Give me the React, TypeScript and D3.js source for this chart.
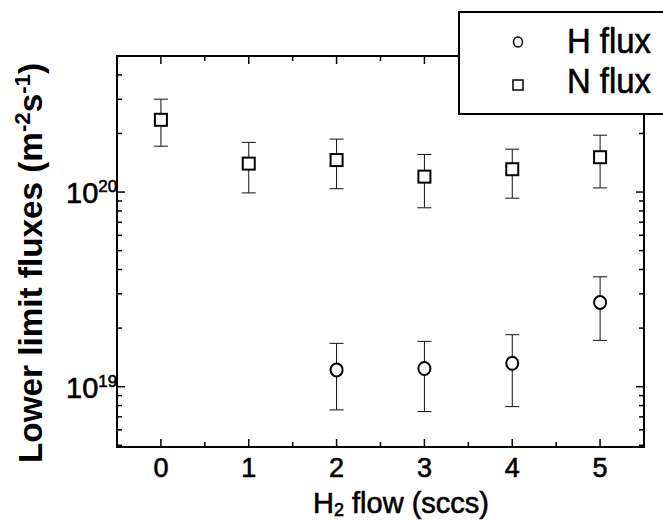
import React from "react";
import * as d3 from "d3";

const xTicks = [0, 1, 2, 3, 4, 5];
const nX = [0, 1, 2, 3, 4, 5];
const nFlux = [2.35e20, 1.4e20, 1.46e20, 1.2e20, 1.31e20, 1.51e20];
const nHigh = [3.0e20, 1.8e20, 1.87e20, 1.56e20, 1.66e20, 1.96e20];
const nLow = [1.72e20, 0.99e20, 1.04e20, 8.3e19, 9.3e19, 1.05e20];
const hX = [2, 3, 4, 5];
const hFlux = [1.22e19, 1.24e19, 1.32e19, 2.71e19];
const hHigh = [1.67e19, 1.71e19, 1.85e19, 3.67e19];
const hLow = [7.6e18, 7.45e18, 7.9e18, 1.73e19];
const yMajor = [1e19, 1e20];
const yMajorExp = ["19", "20"];
const legendLabels = ["H flux", "N flux"];

const FONT = "'Liberation Sans', Arial, Helvetica, sans-serif";

export default function App() {
  const L = 117, R = 644, T = 56, B = 447;
  const x = d3.scaleLinear().domain([-0.5, 5.5]).range([L, R]);
  const y = d3.scaleLog().domain([4.9e18, 5e20]).range([B, T]);

  const minorY: number[] = [];
  for (const dec of [1e18, 1e19, 1e20]) {
    for (let k = 2; k <= 9; k++) {
      const v = k * dec;
      if (v > 4.9e18 && v < 5e20) minorY.push(v);
    }
  }
  const minorX = [0.5, 1.5, 2.5, 3.5, 4.5];
  const majL = 8, minL = 5;
  const cap = 7;
  const heavy = { stroke: "#000", strokeWidth: 0.6 };

  return (
    <svg width={663} height={520} style={{ position: "absolute", left: 0, top: 0, background: "#fff" }}
      fontFamily={FONT}>
      <rect x={0} y={0} width={663} height={520} fill="#fff" />
      {/* ticks */}
      <g stroke="#000" strokeWidth={1.5}>
        {xTicks.map((t) => (
          <g key={"xt" + t}>
            <line x1={x(t)} x2={x(t)} y1={B} y2={B - majL} />
            <line x1={x(t)} x2={x(t)} y1={T} y2={T + majL} />
          </g>
        ))}
        {minorX.map((t) => (
          <g key={"xm" + t}>
            <line x1={x(t)} x2={x(t)} y1={B} y2={B - minL} />
            <line x1={x(t)} x2={x(t)} y1={T} y2={T + minL} />
          </g>
        ))}
        {yMajor.map((t) => (
          <g key={"ym" + t}>
            <line x1={L} x2={L + majL} y1={y(t)} y2={y(t)} />
            <line x1={R} x2={R - majL} y1={y(t)} y2={y(t)} />
          </g>
        ))}
        {minorY.map((t) => (
          <g key={"yn" + t}>
            <line x1={L} x2={L + minL} y1={y(t)} y2={y(t)} />
            <line x1={R} x2={R - minL} y1={y(t)} y2={y(t)} />
          </g>
        ))}
      </g>
      <rect x={L} y={T} width={R - L} height={B - T} fill="none" stroke="#000" strokeWidth={2} />

      {/* x tick labels */}
      {xTicks.map((t) => (
        <text key={"xl" + t} x={x(t)} y={477} fontSize={27} textAnchor="middle" fill="#000" {...heavy}>
          {t}
        </text>
      ))}
      {/* y tick labels */}
      {yMajor.map((t, i) => (
        <text key={"yl" + t} x={66} y={y(t) + 11} fontSize={29} fill="#000" {...heavy}>
          <tspan>10</tspan>
          <tspan fontSize={17} dy={-11}>{yMajorExp[i]}</tspan>
        </text>
      ))}

      {/* axis titles */}
      <text x={401} y={513} fontSize={29} textAnchor="middle" fill="#000" {...heavy}>
        <tspan>H</tspan>
        <tspan fontSize={18} dy={3}>2</tspan>
        <tspan dy={-3}> flow (sccs)</tspan>
      </text>
      <text transform="translate(42,263) rotate(-90)" fontSize={33} fontWeight="bold" textAnchor="middle" fill="#000"
        textLength={400} lengthAdjust="spacingAndGlyphs">
        <tspan>Lower limit fluxes (m</tspan>
        <tspan fontSize={22} dy={-12}>-2</tspan>
        <tspan dy={12}>s</tspan>
        <tspan fontSize={22} dy={-12}>-1</tspan>
        <tspan dy={12}>)</tspan>
      </text>

      {/* error bars */}
      <g stroke="#111" strokeWidth={1} fill="none">
        {nX.map((t, i) => (
          <g key={"ne" + i}>
            <line x1={x(t)} x2={x(t)} y1={y(nHigh[i])} y2={y(nLow[i])} />
            <line x1={x(t) - cap} x2={x(t) + cap} y1={y(nHigh[i])} y2={y(nHigh[i])} />
            <line x1={x(t) - cap} x2={x(t) + cap} y1={y(nLow[i])} y2={y(nLow[i])} />
          </g>
        ))}
        {hX.map((t, i) => (
          <g key={"he" + i}>
            <line x1={x(t)} x2={x(t)} y1={y(hHigh[i])} y2={y(hLow[i])} />
            <line x1={x(t) - cap} x2={x(t) + cap} y1={y(hHigh[i])} y2={y(hHigh[i])} />
            <line x1={x(t) - cap} x2={x(t) + cap} y1={y(hLow[i])} y2={y(hLow[i])} />
          </g>
        ))}
      </g>
      <g stroke="#000" strokeWidth={2} fill="#fff">
        {nX.map((t, i) => (
          <rect key={"nm" + i} x={x(t) - 6} y={y(nFlux[i]) - 6} width={12} height={12} />
        ))}
        {hX.map((t, i) => (
          <ellipse key={"hm" + i} cx={x(t)} cy={y(hFlux[i])} rx={6} ry={6.5} />
        ))}
      </g>

      {/* legend */}
      <rect x={459} y={12} width={230} height={102} fill="#fff" stroke="#000" strokeWidth={2} />
      <ellipse cx={518} cy={42} rx={4.5} ry={5} fill="#fff" stroke="#000" strokeWidth={1.5} />
      <rect x={513} y={80} width={10} height={10} fill="#fff" stroke="#000" strokeWidth={1.5} />
      {legendLabels.map((lab, i) => (
        <text key={lab} x={567} y={53 + i * 40} fontSize={35} fill="#000" textLength={84}
          lengthAdjust="spacingAndGlyphs" {...heavy}>
          {lab}
        </text>
      ))}
    </svg>
  );
}
